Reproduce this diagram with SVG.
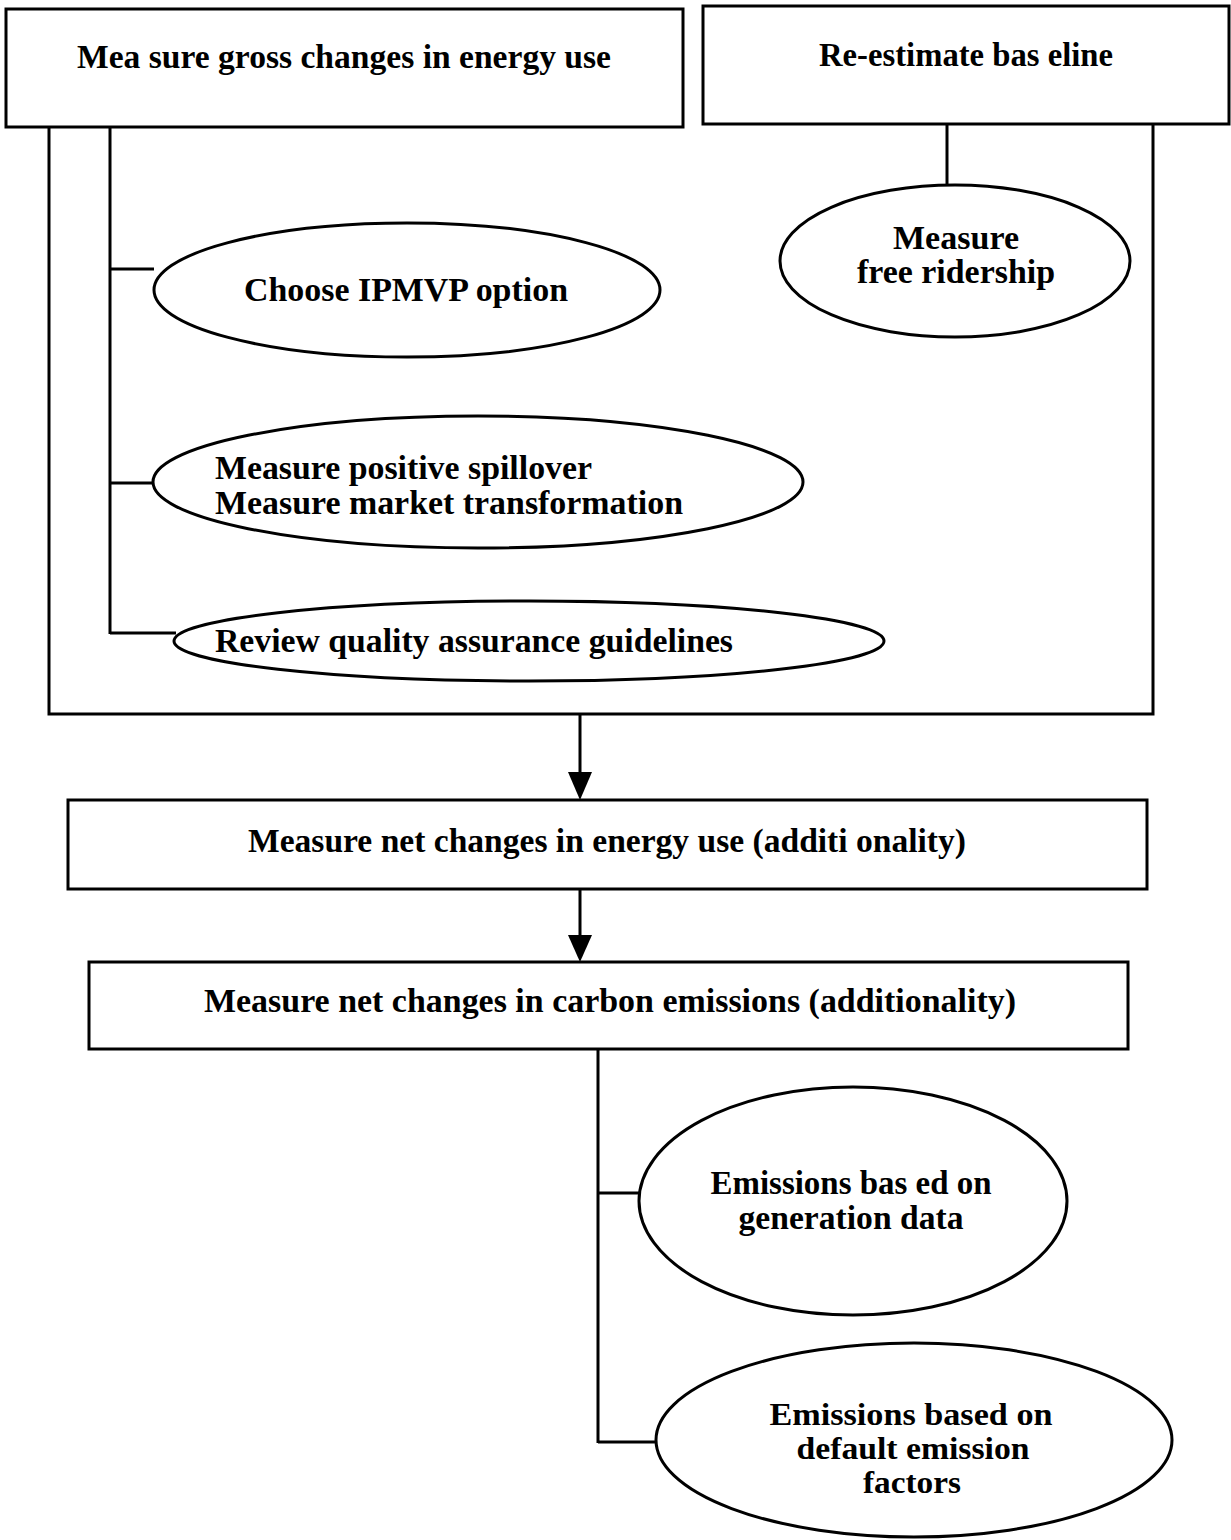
<svg xmlns="http://www.w3.org/2000/svg" width="1231" height="1540" viewBox="0 0 1231 1540">
<style>
.n{fill:#fff;stroke:#000;stroke-width:3}
.c{fill:none;stroke:#000;stroke-width:3}
text{font-family:"Liberation Serif","Times New Roman",serif;font-weight:bold;font-size:34px;fill:#000}
.m{text-anchor:middle}
.s{font-size:31px}
</style>
<rect width="1231" height="1540" fill="#fff"/>
<g id="connectors">
<polyline class="c" points="49,127 49,714 1153,714 1153,124"/>
<line class="c" x1="110" y1="127" x2="110" y2="634"/>
<line class="c" x1="110" y1="269" x2="154" y2="269"/>
<line class="c" x1="110" y1="483" x2="153" y2="483"/>
<line class="c" x1="110" y1="633" x2="176" y2="633"/>
<line class="c" x1="947" y1="124" x2="947" y2="185"/>
<line class="c" x1="580" y1="714" x2="580" y2="780"/>
<path d="M568,772 L592,772 L580,800 Z" fill="#000"/>
<line class="c" x1="580" y1="889" x2="580" y2="942"/>
<path d="M568,935 L592,935 L580,962 Z" fill="#000"/>
<line class="c" x1="598" y1="1049" x2="598" y2="1443"/>
<line class="c" x1="598" y1="1193" x2="640" y2="1193"/>
<line class="c" x1="598" y1="1442" x2="656" y2="1442"/>
</g>
<g id="gross">
<rect class="n" x="6" y="9" width="677" height="118"/>
<text class="m" x="344" y="68" textLength="534" lengthAdjust="spacingAndGlyphs">Mea sure gross changes in energy use</text>
</g>
<g id="baseline">
<rect class="n" x="703" y="6" width="526" height="118"/>
<text class="m" x="966" y="66" textLength="294" lengthAdjust="spacingAndGlyphs">Re-estimate bas eline</text>
</g>
<g id="ipmvp">
<ellipse class="n" cx="407" cy="290" rx="253" ry="67"/>
<text class="m" x="406" y="301" textLength="324" lengthAdjust="spacingAndGlyphs">Choose IPMVP option</text>
</g>
<g id="freeridership">
<ellipse class="n" cx="955" cy="261" rx="175" ry="76"/>
<text class="m" x="956" y="249" textLength="126" lengthAdjust="spacingAndGlyphs">Measure</text>
<text class="m" x="956" y="283" textLength="198" lengthAdjust="spacingAndGlyphs">free ridership</text>
</g>
<g id="spillover">
<ellipse class="n" cx="478" cy="482" rx="325" ry="66"/>
<text x="215" y="479" textLength="377" lengthAdjust="spacingAndGlyphs">Measure positive spillover</text>
<text x="215" y="514" textLength="468" lengthAdjust="spacingAndGlyphs">Measure market transformation</text>
</g>
<g id="review">
<ellipse class="n" cx="529" cy="641" rx="355" ry="40"/>
<text x="215" y="652" textLength="518" lengthAdjust="spacingAndGlyphs">Review quality assurance guidelines</text>
</g>
<g id="netenergy">
<rect class="n" x="68" y="800" width="1079" height="89"/>
<text class="m" x="607" y="852" textLength="718" lengthAdjust="spacingAndGlyphs">Measure net changes in energy use (additi onality)</text>
</g>
<g id="netcarbon">
<rect class="n" x="89" y="962" width="1039" height="87"/>
<text class="m" x="610" y="1012" textLength="812" lengthAdjust="spacingAndGlyphs">Measure net changes in carbon emissions (additionality)</text>
</g>
<g id="generation">
<ellipse class="n" cx="853" cy="1201" rx="214" ry="114"/>
<text class="m" x="851" y="1194" textLength="281" lengthAdjust="spacingAndGlyphs">Emissions bas ed on</text>
<text class="m" x="851" y="1229" textLength="225" lengthAdjust="spacingAndGlyphs">generation data</text>
</g>
<g id="default">
<ellipse class="n" cx="914" cy="1440" rx="258" ry="97"/>
<text class="m s" x="911" y="1425" textLength="283" lengthAdjust="spacingAndGlyphs">Emissions based on</text>
<text class="m s" x="913" y="1459" textLength="233" lengthAdjust="spacingAndGlyphs">default emission</text>
<text class="m s" x="912" y="1493" textLength="98" lengthAdjust="spacingAndGlyphs">factors</text>
</g>
</svg>
